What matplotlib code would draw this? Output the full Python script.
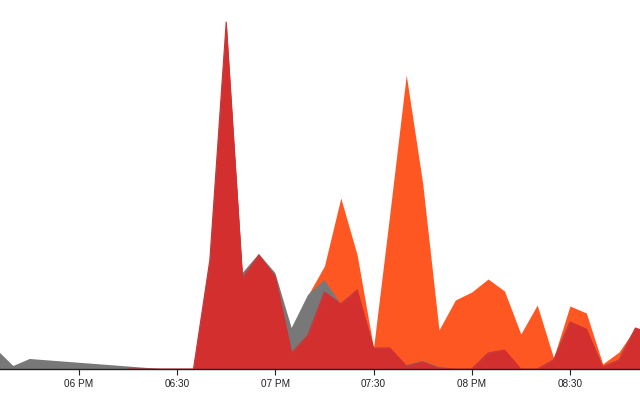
import matplotlib.pyplot as plt
import numpy as np

plt.rcParams['font.family'] = ['Liberation Sans', 'DejaVu Sans']

# minutes after 06 PM, one sample every 5 minutes
gray_t = [-25, -20, -15, 25, 30, 35, 40, 45, 50, 55, 60, 65, 70, 75, 80, 85, 90, 95,
          100, 105, 110, 115, 120, 125, 130, 135, 140, 145, 150, 155, 160, 165, 170, 175]
gray_v = [19, 3, 10, 0, 0, 0, 109, 347, 96, 115, 96, 41, 74, 89, 65, 79, 21, 21,
          4, 8, 2, 0, 0, 16, 19, 0, 0, 9, 47, 40, 2, 9, 41, 35]

red_t = [15, 20, 25, 30, 35, 40, 45, 50, 55, 60, 65, 70, 75, 80, 85, 90, 95,
         100, 105, 110, 115, 120, 125, 130, 135, 140, 145, 150, 155, 160, 165, 170, 175]
red_v = [0, 0, 0, 0, 0, 109, 347, 91, 114, 92, 16, 34, 77, 65, 79, 21, 21,
         3, 7, 1, 0, 0, 16, 19, 0, 0, 9, 47, 40, 2, 9, 41, 35]

orange_t = [65, 70, 75, 80, 85, 90, 95, 100, 105, 110, 115, 120, 125, 130, 135,
            140, 145, 150, 155, 160, 165, 170, 175]
orange_v = [0, 74, 103, 171, 114, 21, 156, 294, 186, 39, 69, 77, 90, 78, 35,
            64, 11, 63, 56, 5, 17, 41, 35]

tick_pos = [0, 30, 60, 90, 120, 150]
tick_lab = ['06 PM', '06:30', '07 PM', '07:30', '08 PM', '08:30']

fig = plt.figure(figsize=(6.4, 4), dpi=100)
ax = fig.add_axes([0, 31 / 400, 1, 369 / 400])

ax.fill_between(orange_t, orange_v, color='#FF5722', lw=0)
ax.fill_between(gray_t, gray_v, color='#787878', lw=0)
ax.fill_between(red_t, red_v, color='#D32F2F', lw=0)
ax.plot(red_t, red_v, color='#D32F2F', lw=0.8)

ax.set_xlim(-24.1, 171.4)
ax.set_ylim(0, 369)
ax.set_xticks(tick_pos)
ax.set_xticklabels(tick_lab)
ax.set_yticks([])
for s in ['top', 'right', 'left']:
    ax.spines[s].set_visible(False)
ax.spines['bottom'].set_color('#222222')
ax.spines['bottom'].set_linewidth(1)
ax.tick_params(axis='x', length=4.3, width=0.8, color='#222222', pad=2.6,
               labelsize=7.2, labelcolor='#222222')
ax.patch.set_alpha(0)

fig.savefig('out.png', dpi=100)
